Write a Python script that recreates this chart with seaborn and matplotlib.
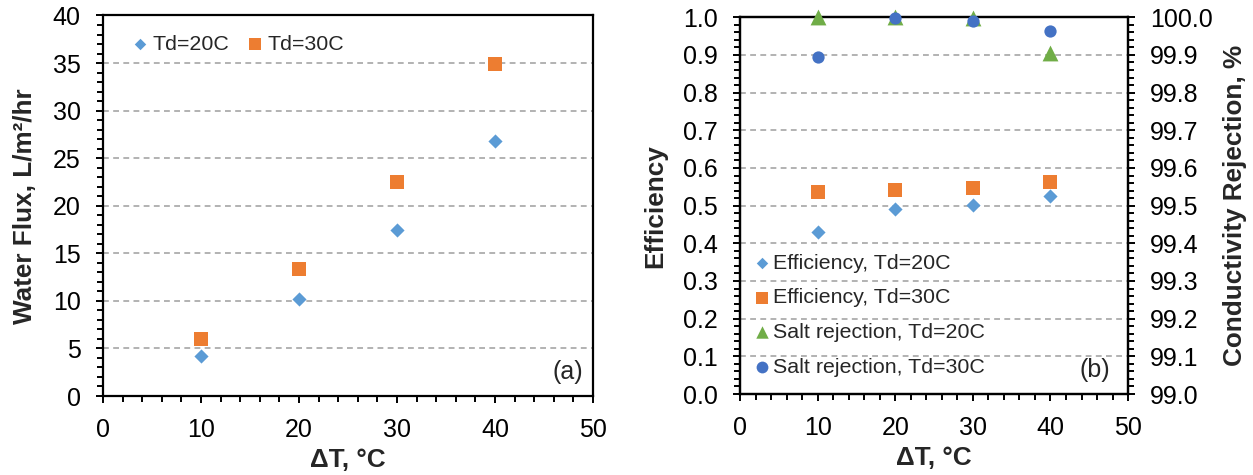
import numpy as np
import pandas as pd
import matplotlib
matplotlib.use("Agg")
import matplotlib.pyplot as plt
from matplotlib.ticker import MultipleLocator, FormatStrFormatter
import seaborn as sns

# ---- data ----
delta_t = [10, 20, 30, 40]
flux_td20 = [4.2, 10.2, 17.4, 26.8]
flux_td30 = [6.0, 13.3, 22.5, 34.9]
eff_td20 = [0.430, 0.492, 0.501, 0.525]
eff_td30 = [0.536, 0.542, 0.548, 0.562]
rej_td20 = [100.0, 100.0, 99.998, 99.906]
rej_td30 = [99.894, 99.999, 99.991, 99.964]

x_ticks = [0, 10, 20, 30, 40, 50]
flux_ticks = [0, 5, 10, 15, 20, 25, 30, 35, 40]
eff_ticks = [0.0, 0.1, 0.2, 0.3, 0.4, 0.5, 0.6, 0.7, 0.8, 0.9, 1.0]
rej_ticks = [99.0, 99.1, 99.2, 99.3, 99.4, 99.5, 99.6, 99.7, 99.8, 99.9, 100.0]

BLUE_L = "#5B9BD5"
ORANGE = "#ED7D31"
GREEN = "#70AD47"
BLUE_D = "#4472C4"
GRID = "#A6A6A6"

sns.set_style("ticks")
plt.rcParams["font.family"] = ["Liberation Sans", "DejaVu Sans"]
plt.rcParams["axes.unicode_minus"] = False

fig = plt.figure(figsize=(12.53, 4.75), dpi=100)
axa = fig.add_axes([0.0822, 0.1663, 0.3911, 0.8011])
axb = fig.add_axes([0.5906, 0.1705, 0.3097, 0.7931])

TICK_FS = 18
LABEL_FS = 18.8
LEGEND_FS = 15.4

S_DIAMOND = 52
S_SQUARE = 92
S_TRI = 130
S_CIRC = 78

flux_df = pd.DataFrame({"dT": delta_t, "td20": flux_td20, "td30": flux_td30})
eff_df = pd.DataFrame({"dT": delta_t, "td20": eff_td20, "td30": eff_td30})
rej_df = pd.DataFrame({"dT": delta_t, "td20": rej_td20, "td30": rej_td30})


def style_axis(ax):
    for sp in ax.spines.values():
        sp.set_visible(True)
        sp.set_color("black")
        sp.set_linewidth(1.6)
    ax.tick_params(which="major", direction="out", length=5, width=1.4,
                   colors="black", labelsize=TICK_FS, pad=11)
    ax.tick_params(which="minor", direction="out", length=4.5, width=1.4,
                   colors="black")
    ax.set_axisbelow(True)
    ax.yaxis.grid(True, linestyle=(0, (3.5, 2.6)), color=GRID, linewidth=1.2)
    ax.xaxis.grid(False)


def legend_handle(ax, marker, size, color):
    return ax.scatter([], [], marker=marker, s=size, color=color, linewidth=0)


# ---- panel (a): water flux ----
sns.scatterplot(data=flux_df, x="dT", y="td20", ax=axa, marker="D", s=S_DIAMOND,
                color=BLUE_L, linewidth=0, zorder=3)
sns.scatterplot(data=flux_df, x="dT", y="td30", ax=axa, marker="s", s=S_SQUARE,
                color=ORANGE, linewidth=0, zorder=3)
axa.set_xlim(0, 50)
axa.set_ylim(0, 40)
axa.set_xticks(x_ticks)
axa.set_yticks(flux_ticks)
axa.xaxis.set_minor_locator(MultipleLocator(2))
axa.yaxis.set_minor_locator(MultipleLocator(1))
style_axis(axa)
axa.set_xlabel("\u0394T, \u00b0C", fontsize=LABEL_FS, fontweight="bold")
axa.set_ylabel("Water Flux, L/m\u00b2/hr", fontsize=LABEL_FS, fontweight="bold")
axa.xaxis.set_label_coords(0.5, -0.137)
axa.yaxis.set_label_coords(-0.134, 0.5)
axa.text(0.98, 0.063, "(a)", transform=axa.transAxes, ha="right", va="center",
         fontsize=18)
axa.legend([legend_handle(axa, "D", 34, BLUE_L), legend_handle(axa, "s", 72, ORANGE)],
           ["Td=20C", "Td=30C"],
           loc="upper left", bbox_to_anchor=(0.060, 0.950), ncol=2, frameon=False,
           fontsize=LEGEND_FS, handlelength=0.7, handletextpad=0.26,
           columnspacing=0.82, borderpad=0, borderaxespad=0)

# ---- panel (b): efficiency and conductivity rejection ----
sns.scatterplot(data=eff_df, x="dT", y="td20", ax=axb, marker="D", s=S_DIAMOND,
                color=BLUE_L, linewidth=0, zorder=3)
sns.scatterplot(data=eff_df, x="dT", y="td30", ax=axb, marker="s", s=S_SQUARE,
                color=ORANGE, linewidth=0, zorder=3)
axb.set_xlim(0, 50)
axb.set_ylim(0, 1.0)
axb.set_xticks(x_ticks)
axb.set_yticks(eff_ticks)
axb.yaxis.set_major_formatter(FormatStrFormatter("%.1f"))
axb.xaxis.set_minor_locator(MultipleLocator(2))
axb.yaxis.set_minor_locator(MultipleLocator(0.02))
style_axis(axb)
axb.set_xlabel("\u0394T, \u00b0C", fontsize=LABEL_FS, fontweight="bold")
axb.set_ylabel("Efficiency", fontsize=LABEL_FS, fontweight="bold")
axb.xaxis.set_label_coords(0.5, -0.137)
axb.yaxis.set_label_coords(-0.188, 0.5)

ax2 = axb.twinx()
sns.scatterplot(data=rej_df, x="dT", y="td20", ax=ax2, marker="^", s=S_TRI,
                color=GREEN, linewidth=0, zorder=3)
sns.scatterplot(data=rej_df, x="dT", y="td30", ax=ax2, marker="o", s=S_CIRC,
                color=BLUE_D, linewidth=0, zorder=4)
for coll in ax2.collections + axb.collections:
    coll.set_clip_on(False)
ax2.set_ylim(99.0, 100.0)
ax2.set_yticks(rej_ticks)
ax2.yaxis.set_major_formatter(FormatStrFormatter("%.1f"))
ax2.yaxis.set_minor_locator(MultipleLocator(0.02))
for sp in ax2.spines.values():
    sp.set_color("black")
    sp.set_linewidth(1.6)
ax2.tick_params(axis="y", which="major", direction="out", length=5, width=1.4,
                colors="black", labelsize=TICK_FS, pad=11)
ax2.tick_params(axis="y", which="minor", direction="out", length=4.5, width=1.4,
                colors="black")
ax2.set_ylabel("Conductivity Rejection, %", fontsize=LABEL_FS, fontweight="bold",
               rotation=90)
ax2.yaxis.set_label_coords(1.245, 0.5)
ax2.grid(False)
ax2.text(0.955, 0.063, "(b)", transform=ax2.transAxes, ha="right", va="center",
         fontsize=18)

# combined legend for panel (b)
handles = [
    legend_handle(axb, "D", 34, BLUE_L),
    legend_handle(axb, "s", 72, ORANGE),
    legend_handle(axb, "^", 80, GREEN),
    legend_handle(axb, "o", 72, BLUE_D),
]
labels = ["Efficiency, Td=20C", "Efficiency, Td=30C",
          "Salt rejection, Td=20C", "Salt rejection, Td=30C"]
ax2.legend(handles, labels, loc="lower left", bbox_to_anchor=(0.040, 0.046),
           frameon=False, fontsize=LEGEND_FS, handlelength=0.6, handletextpad=0.22,
           labelspacing=0.73, borderpad=0, borderaxespad=0)

fig.savefig("out.png", dpi=100)
